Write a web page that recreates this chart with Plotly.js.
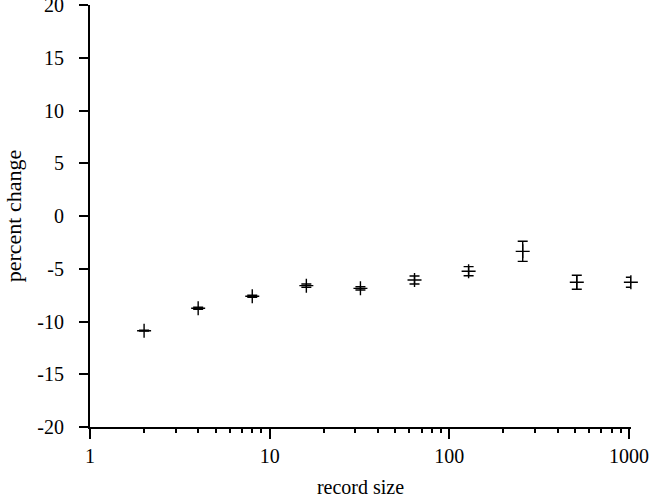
<!DOCTYPE html>
<html>
<head>
<meta charset="utf-8">
<script src="https://cdn.plot.ly/plotly-3.0.1.min.js"></script>
<style>html,body{margin:0;padding:0;background:#fff;}#chart{width:651px;height:498px;}</style>
</head>
<body>
<div id="chart"></div>
<script>
// Data
const recordSize = [2, 4, 8, 16, 32, 64, 128, 256, 512, 1024];
const percentChange = [-10.87, -8.75, -7.61, -6.6, -6.86, -6.07, -5.23, -3.35, -6.28, -6.28];
const errorAmount = [0.04, 0.1, 0.1, 0.16, 0.16, 0.38, 0.43, 0.95, 0.66, 0.47];
const xTickVals = [1, 10, 100, 1000];
const xTickText = ['1', '10', '100', '1000'];
const yTickVals = [-20, -15, -10, -5, 0, 5, 10, 15, 20];
const yTickText = ['-20', '-15', '-10', '-5', '0', '5', '10', '15', '20'];

const minorVals = [];
for (let d = 1; d <= 100; d *= 10) for (let k = 2; k <= 9; k++) minorVals.push(k * d);

const family = 'Liberation Serif';
function mkFont(s) { return {family: family, size: s || 20, color: '#000'}; }

const trace = {
  x: recordSize, y: percentChange, type: 'scatter', mode: 'markers',
  cliponaxis: false,
  marker: {symbol: 'cross-thin-open', size: 10, color: '#000', line: {color: '#000', width: 1.4}},
  error_y: {type: 'data', array: errorAmount, visible: true, width: 5, thickness: 1.4, color: '#000'},
  showlegend: false, hoverinfo: 'none'
};

const layout = {
  width: 651, height: 498,
  margin: {l: 90, r: 20, t: 5, b: 71},
  paper_bgcolor: '#fff', plot_bgcolor: '#fff',
  font: mkFont(),
  xaxis: {
    type: 'log', range: [0, 3.011], tickmode: 'array', tickvals: xTickVals, ticktext: xTickText,
    showline: true, linecolor: '#000', linewidth: 2, mirror: false,
    ticks: 'outside', ticklen: 10, tickwidth: 2, tickcolor: '#000',
    ticklabelstandoff: 0, ticklabeloverflow: 'allow',
    showgrid: false, zeroline: false,
    minor: {tickmode: 'array', tickvals: minorVals, ticks: 'outside', ticklen: 4, tickwidth: 2, tickcolor: '#000', showgrid: false},
    title: {text: 'record size', font: mkFont(20), standoff: 15},
    tickfont: mkFont(20)
  },
  yaxis: {
    range: [-20, 20], tickmode: 'array', tickvals: yTickVals, ticktext: yTickText,
    showline: true, linecolor: '#000', linewidth: 2,
    ticks: 'outside', ticklen: 9, tickwidth: 2, tickcolor: '#000',
    ticklabelstandoff: 11, ticklabeloverflow: 'allow',
    showgrid: false, zeroline: false,
    title: {text: 'percent change', font: mkFont(22), standoff: 10},
    tickfont: mkFont(20)
  }
};

Plotly.newPlot('chart', [trace], layout, {staticPlot: true, displayModeBar: false});
</script>
</body>
</html>
